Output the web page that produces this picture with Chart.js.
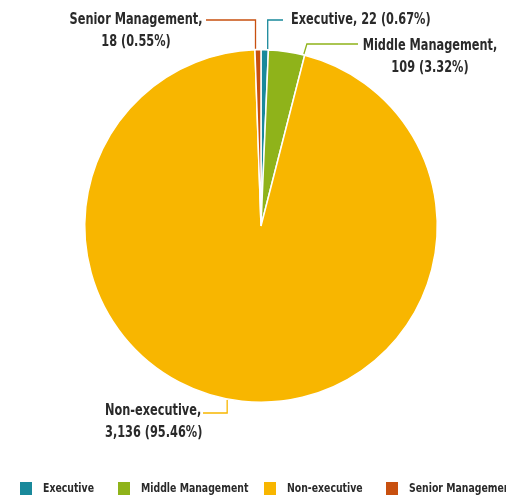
<!DOCTYPE html>
<html lang="en">
<head>
  <meta charset="UTF-8" />
  <title>Employees by Category</title>
  <script src="https://cdn.jsdelivr.net/npm/chart.js"></script>
  <style>
    html, body { margin: 0; padding: 0; background: #fff; overflow: hidden; }
    .wrap { width: 506px; height: 497px; }
  </style>
</head>
<body>
  <div class="wrap"><canvas id="pie" width="506" height="497"></canvas></div>

  <script>
    const categories = ["Executive", "Middle Management", "Non-executive", "Senior Management"];
    const headcount = [22, 109, 3136, 18];
    const colors = ["#19899b", "#8fb31a", "#f8b600", "#c8500f"];

    const FONT = '"Liberation Sans Narrow", "DejaVu Sans Condensed", sans-serif';
    const TEXT = "#2a2a2a";

    const total = headcount.reduce((a, b) => a + b, 0);
    const pct = v => (v / total * 100).toFixed(2) + "%";
    const fmt = v => v.toLocaleString("en-US");
    const valueText = i => fmt(headcount[i]) + " (" + pct(headcount[i]) + ")";

    // condensed text: squeeze horizontally around the anchor point
    function squeezeText(ctx, text, x, y, sx) {
      ctx.save();
      ctx.translate(x, y);
      ctx.scale(sx, 1);
      ctx.fillText(text, 0, 0);
      ctx.restore();
    }

    // where each callout sits: point along the slice, elbow y, text anchor
    const callouts = [
      { at: 0.9, elbowY: 20, endX: 283, lines: i => [categories[i] + ", " + valueText(i)], tx: 291, ty: 20, align: "left" },
      { at: 0.97, elbowY: 44, endX: 358, lines: i => [categories[i] + ",", valueText(i)], tx: 430, ty: 46, align: "center" },
      { at: 0.514, elbowY: 413, endX: 203, lines: i => [categories[i] + ",", valueText(i)], tx: 105, ty: 411, align: "left" },
      { at: 0.1, elbowY: 20, endX: 206, lines: i => [categories[i] + ",", valueText(i)], tx: 136, ty: 20, align: "center" }
    ];

    const calloutPlugin = {
      id: "callouts",
      afterDatasetsDraw(chart) {
        const ctx = chart.ctx;
        const arcs = chart.getDatasetMeta(0).data;
        ctx.save();
        arcs.forEach((arc, i) => {
          const c = callouts[i];
          const p = arc.getProps(["x", "y", "startAngle", "endAngle", "outerRadius"], true);
          const a = p.startAngle + (p.endAngle - p.startAngle) * c.at;
          const ax = p.x + Math.cos(a) * (p.outerRadius + 1);
          const ay = p.y + Math.sin(a) * (p.outerRadius + 1);
          ctx.strokeStyle = colors[i];
          ctx.lineWidth = 1.3;
          ctx.beginPath();
          ctx.moveTo(ax, ay);
          const ex = i === 1 ? ax + 3 : ax;
          ctx.lineTo(ex, c.elbowY);
          ctx.lineTo(c.endX, c.elbowY);
          ctx.stroke();

          ctx.fillStyle = TEXT;
          ctx.font = "bold 15px " + FONT;
          ctx.textAlign = c.align;
          ctx.textBaseline = "middle";
          c.lines(i).forEach((t, k) => squeezeText(ctx, t, c.tx, c.ty + k * 22, 0.84));
        });
        ctx.restore();
      }
    };

    // legend row along the bottom edge
    const legendX = [20, 118, 264, 386];
    const legendPlugin = {
      id: "bottomLegend",
      afterDraw(chart) {
        const ctx = chart.ctx;
        ctx.save();
        ctx.font = "bold 12.5px " + FONT;
        ctx.textBaseline = "middle";
        ctx.textAlign = "left";
        categories.forEach((name, i) => {
          ctx.fillStyle = colors[i];
          ctx.fillRect(legendX[i], 482, 12, 13);
          ctx.fillStyle = TEXT;
          squeezeText(ctx, name, legendX[i] + 23, 489, 0.83);
        });
        ctx.restore();
      }
    };

    new Chart(document.getElementById("pie"), {
      type: "pie",
      data: {
        labels: categories,
        datasets: [{
          data: headcount,
          backgroundColor: colors,
          borderColor: "#ffffff",
          borderWidth: 1.5
        }]
      },
      options: {
        responsive: false,
        animation: false,
        layout: { padding: { left: 84, right: 68, top: 49, bottom: 94 } },
        plugins: {
          legend: { display: false },
          tooltip: { enabled: false }
        }
      },
      plugins: [calloutPlugin, legendPlugin]
    });
  </script>
</body>
</html>
